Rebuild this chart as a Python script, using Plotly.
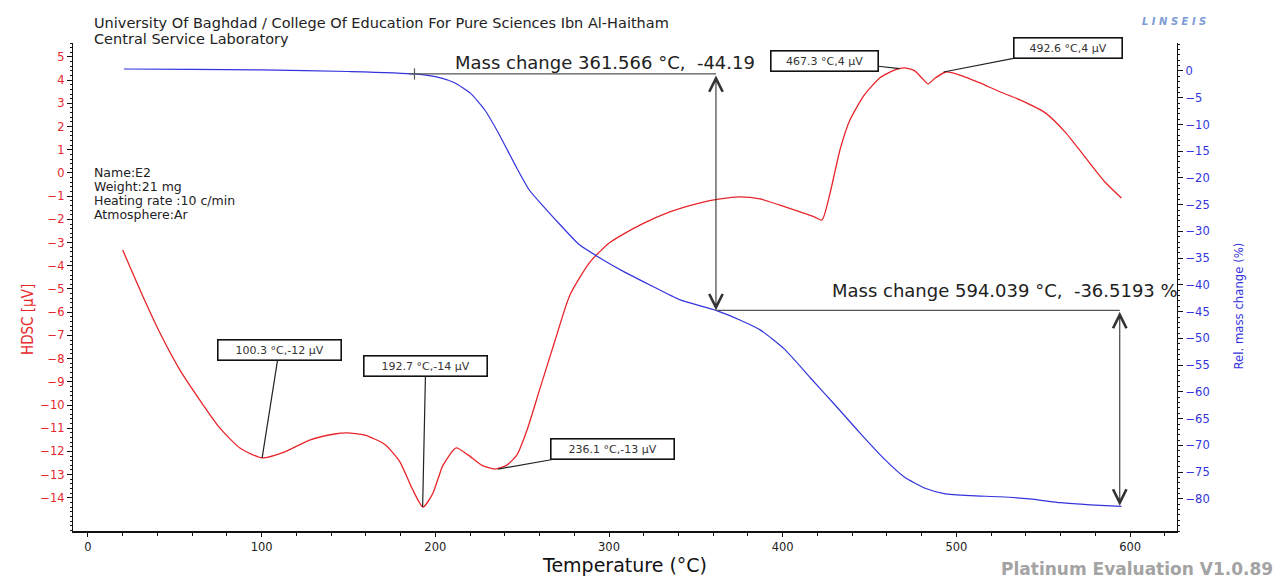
import plotly.graph_objects as go

# ---------------- data ----------------
# DSC (left axis, µV)
dsc_T = [20, 30, 41.5, 53, 64.5, 76, 87.5, 100.2, 113, 128, 142, 149, 159.5, 171, 179.6, 186.5,
         192.9, 198.6, 204.4, 212, 218.8, 226.8, 234.3, 241, 247, 252.7, 260, 269, 277.5, 289,
         300.5, 318, 335, 352, 364, 375, 387, 398, 410, 418.5, 422.6, 427, 433, 438.7, 447, 456,
         464.6, 470, 476, 480, 483.6, 488, 494, 502, 513.5, 525, 536.6, 551, 562.5, 574, 585.5, 595]
dsc_v = [-3.32, -5.04, -6.9, -8.5, -9.8, -11.0, -11.85, -12.28, -12.03, -11.5, -11.25, -11.2, -11.3,
         -11.7, -12.45, -13.58, -14.4, -13.8, -12.6, -11.85, -12.15, -12.6, -12.76, -12.6, -12.15,
         -11.1, -9.35, -7.2, -5.26, -3.84, -3.0, -2.24, -1.68, -1.3, -1.12, -1.03, -1.12, -1.38,
         -1.68, -1.9, -2.03, -0.95, 1.0, 2.28, 3.36, 4.1, 4.44, 4.53, 4.4, 4.1, 3.84, 4.1, 4.35,
         4.22, 3.88, 3.5, 3.15, 2.6, 1.77, 0.69, -0.39, -1.08]

# TG (right axis, %)
tg_T = [20.7, 60, 100, 150, 188, 203, 211, 220, 228.5, 237, 246, 254, 263, 272, 283, 295, 309,
        323.5, 341, 361.6, 375, 387, 401, 416, 430, 444, 459, 470, 482, 493, 508, 525, 542, 560,
        577, 595]
tg_m = [0.37, 0.3, 0.2, -0.1, -0.56, -1.3, -2.2, -4.1, -7.3, -12.0, -17.6, -22.2, -25.6, -28.8,
        -32.5, -35.0, -37.6, -40.0, -42.8, -44.75, -46.5, -48.4, -52.0, -57.4, -62.4, -67.5,
        -72.7, -75.9, -78.0, -79.0, -79.4, -79.6, -80.0, -80.7, -81.1, -81.4]

# peak labels
peak_T = [100.3, 192.7, 236.1, 467.3, 492.6]
peak_v = [-12.28, -14.4, -12.76, 4.5, 4.35]
peak_text = ["100.3 °C,-12 µV", "192.7 °C,-14 µV", "236.1 °C,-13 µV", "467.3 °C,4 µV", "492.6 °C,4 µV"]

# mass change evaluation
mc_T = [188.0, 361.566, 594.039]
mc_ref = -0.56
mc_changes = [-44.19, -36.5193]
mc_text = ["Mass change 361.566 °C,  -44.19", "Mass change 594.039 °C,  -36.5193 %"]

x_ticks = [0, 100, 200, 300, 400, 500, 600]
y1_ticks = list(range(-14, 6))
y2_ticks = list(range(0, -85, -5))

# ---------------- figure ----------------
RED = "#e8262b"
BLUE = "#3333dd"
FONT = "DejaVu Sans"

L, R, T, B = 73, 105, 43, 49
W, H = 1282, 580
PW, PH = W - L - R, H - T - B


def px(x):
    return (x - L) / PW


def py(y):
    return 1 - (y - T) / PH


fig = go.Figure()
fig.add_trace(go.Scatter(x=dsc_T, y=dsc_v, mode="lines", line=dict(color=RED, width=1.3, shape="spline", smoothing=0.6),
                         yaxis="y", showlegend=False, hoverinfo="skip"))
fig.add_trace(go.Scatter(x=tg_T, y=tg_m, mode="lines", line=dict(color=BLUE, width=1.2, shape="spline", smoothing=0.6),
                         yaxis="y2", showlegend=False, hoverinfo="skip"))

lv = [mc_ref, mc_ref + mc_changes[0], mc_ref + mc_changes[0] + mc_changes[1]]
GRAY = "#555555"
fig.add_trace(go.Scatter(x=[mc_T[0]], y=[lv[0]], mode="markers", yaxis="y2",
                         marker=dict(symbol="line-ns-open", size=8, color=GRAY, line=dict(color=GRAY, width=1.2)),
                         showlegend=False, hoverinfo="skip"))

shapes = [
    dict(type="line", xref="x", yref="y2", x0=mc_T[0] - 3, x1=mc_T[1], y0=lv[0], y1=lv[0],
         line=dict(color=GRAY, width=1.2)),
    dict(type="line", xref="x", yref="y2", x0=mc_T[1], x1=mc_T[2], y0=lv[1], y1=lv[1],
         line=dict(color=GRAY, width=1.2)),
]

ann = []
# mass change texts
ann.append(dict(x=210, y=lv[0], xref="x", yref="y2", text=mc_text[0], showarrow=False,
                xanchor="left", yanchor="bottom", yshift=-1, font=dict(family=FONT, size=18, color="#222")))
ann.append(dict(x=427, y=lv[1], xref="x", yref="y2", text=mc_text[1], showarrow=False,
                xanchor="left", yanchor="bottom", yshift=7, font=dict(family=FONT, size=18, color="#222")))
# vertical double arrows
for i in (1, 2):
    ann.append(dict(x=mc_T[i], y=lv[i], xref="x", yref="y2", ax=mc_T[i], ay=lv[i - 1], axref="x", ayref="y2",
                    text="", showarrow=True, arrowside="end+start", arrowhead=5, startarrowhead=5,
                    arrowsize=2.4, startarrowsize=2.4, arrowwidth=1.1, arrowcolor="#333"))

# peak label boxes (pixel offsets of box centre from the point)
offs = [(17, -108), (3, -141), (114, -20), (-75, -8), (124, -24)]
widths = [118, 118, 118, 102, 103]
for t, v, s, (ox, oy), w in zip(peak_T, peak_v, peak_text, offs, widths):
    ann.append(dict(x=t, y=v, xref="x", yref="y", text=s, showarrow=True, ax=ox, ay=oy,
                    arrowhead=0, arrowwidth=1.2, arrowcolor="#222", bgcolor="white",
                    bordercolor="#111", borderwidth=1.6, borderpad=2, width=w, height=15,
                    font=dict(family=FONT, size=11, color="#333")))

# header & info text
ann.append(dict(x=px(92), y=py(23), xref="paper", yref="paper", xanchor="left", yanchor="middle", showarrow=False,
                text="University Of Baghdad / College Of Education For Pure Sciences Ibn Al-Haitham",
                font=dict(family=FONT, size=14.5, color="#222")))
ann.append(dict(x=px(92), y=py(39), xref="paper", yref="paper", xanchor="left", yanchor="middle", showarrow=False,
                text="Central Service Laboratory", font=dict(family=FONT, size=14.5, color="#222")))
for i, s in enumerate(["Name:E2", "Weight:21 mg", "Heating rate :10 c/min", "Atmosphere:Ar"]):
    ann.append(dict(x=px(92), y=py(172 + 14 * i), xref="paper", yref="paper", xanchor="left", yanchor="middle",
                    showarrow=False, text=s, font=dict(family=FONT, size=12.5, color="#222")))

# axis titles
ann.append(dict(x=px(17), y=py(320), xref="paper", yref="paper", showarrow=False, textangle=-90,
                text="HDSC [µV]", font=dict(family="DejaVu Sans Condensed, DejaVu Sans", size=15, color=RED)))
ann.append(dict(x=px(1247), y=py(306), xref="paper", yref="paper", showarrow=False, textangle=-90,
                text="Rel. mass change (%)", font=dict(family="DejaVu Sans Condensed, DejaVu Sans", size=13, color=BLUE)))
ann.append(dict(x=px(1275), y=0, xref="paper", yref="paper", showarrow=False, xanchor="right", yanchor="top",
                yshift=-26,
                text="<b>Platinum Evaluation V1.0.89</b>", font=dict(family=FONT, size=17, color="#a3a3a3")))
ann.append(dict(x=px(1208), y=py(14), xref="paper", yref="paper", showarrow=False,
                text="<b><i>L I N S E I S</i></b>", font=dict(family=FONT, size=10, color="#7b9bd4")))

fig.update_layout(
    width=W, height=H, margin=dict(l=L, r=R, t=T, b=B, autoexpand=False),
    paper_bgcolor="white", plot_bgcolor="white",
    shapes=shapes, annotations=ann,
    xaxis=dict(range=[-8.6, 627], tickvals=x_ticks, showline=True, linecolor="#111", linewidth=1.5,
               automargin=False,
               ticks="outside", ticklen=4, tickcolor="#111", showgrid=False, zeroline=False,
               minor=dict(dtick=20, ticks="outside", ticklen=3, tickcolor="#111"),
               tickfont=dict(family=FONT, size=11.5, color="#222"),
               title=dict(text="Temperature (°C)", standoff=0,
                          font=dict(family=FONT, size=19, color="#111"))),
    yaxis=dict(range=[-15.43, 5.6], tickvals=y1_ticks, showline=True, linecolor="#111", linewidth=1.3,
               automargin=False,
               ticks="outside", ticklen=5, tickcolor="#111", showgrid=False, zeroline=False,
               minor=dict(dtick=0.2, ticks="outside", ticklen=2, tickcolor="#111"),
               tickfont=dict(family=FONT, size=11.5, color=RED)),
    yaxis2=dict(range=[-86.0, 5.23], tickvals=y2_ticks, overlaying="y", side="right", showline=True,
                automargin=False,
                linecolor="#111", linewidth=1.3, ticks="outside", ticklen=5, tickcolor="#111",
                showgrid=False, zeroline=False,
                minor=dict(dtick=1, ticks="outside", ticklen=2, tickcolor="#111"),
                tickfont=dict(family=FONT, size=11.5, color=BLUE)),
)

fig.write_html("out.html")
